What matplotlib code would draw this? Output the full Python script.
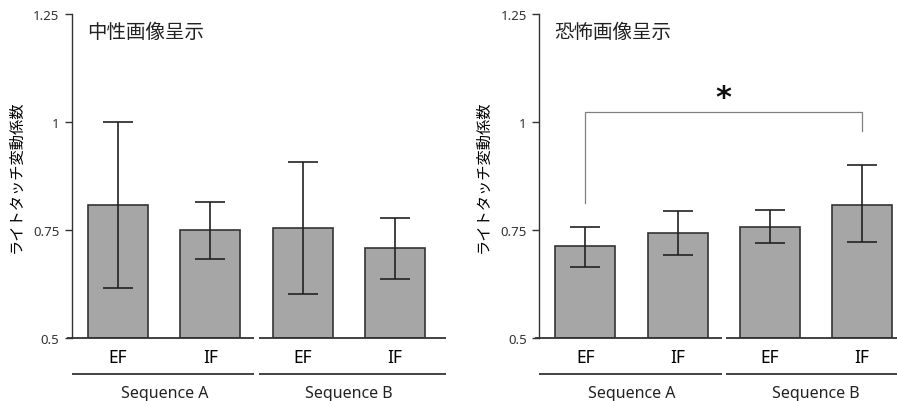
import matplotlib
matplotlib.use("Agg")
import matplotlib.pyplot as plt
import matplotlib.transforms as mtransforms
import numpy as np

plt.rcParams['font.family'] = ['Noto Sans', 'Noto Sans CJK JP', 'DejaVu Sans']

conditions = ["EF", "IF", "EF", "IF"]
groups = ["Sequence A", "Sequence B"]
titles = ["中性画像呈示", "恐怖画像呈示"]
ylabel = "ライトタッチ変動係数"
yticks = [0.5, 0.75, 1.0, 1.25]
yticklabels = ["0.5", "0.75", "1", "1.25"]

neutral_mean = [0.807, 0.749, 0.754, 0.708]
neutral_upper = [1.000, 0.815, 0.908, 0.778]
neutral_lower = [0.616, 0.682, 0.602, 0.636]

fear_mean = [0.712, 0.744, 0.756, 0.809]
fear_upper = [0.758, 0.793, 0.796, 0.900]
fear_lower = [0.665, 0.693, 0.720, 0.723]

sig_level = 1.022
sig_left_end = 0.813
sig_right_end = 0.980
star_level = 1.056

W, H = 897, 402
fig = plt.figure(figsize=(W / 100, H / 100), dpi=100)

axis_color = "#333333"
bar_color = "#a6a6a6"


def make_panel(left_px, means, uppers, lowers, title, sig=False):
    ax = fig.add_axes([left_px / W, (H - 339) / H, 369 / W, 324 / H])
    x = np.arange(len(means))
    means = np.array(means)
    err = np.vstack([means - np.array(lowers), np.array(uppers) - means])
    ax.bar(x, means - 0.5, bottom=0.5, width=0.65, color=bar_color,
           edgecolor=axis_color, linewidth=1.2, zorder=2)
    ax.errorbar(x, means, yerr=err, fmt="none", ecolor="#222222",
                elinewidth=1.2, capsize=11, capthick=1.2, zorder=3)
    ax.set_xlim(-0.5, 3.5)
    ax.set_ylim(0.5, 1.25)
    ax.set_yticks(yticks)
    ax.set_yticklabels(yticklabels, fontsize=9.5, color="#333333")
    ax.tick_params(axis="y", direction="out", length=5, width=1.0,
                   color=axis_color, pad=4)
    ax.set_xticks(x)
    ax.set_xticklabels(conditions, fontsize=12.5)
    ax.tick_params(axis="x", length=0, pad=7)
    for s in ["top", "right", "bottom"]:
        ax.spines[s].set_visible(False)
    ax.spines["left"].set_color(axis_color)
    ax.spines["left"].set_linewidth(1.0)
    # broken bottom axis
    ax.plot([-0.55, 1.478], [0.5, 0.5], color=axis_color, lw=1.3,
            clip_on=False, zorder=4, solid_capstyle="butt")
    ax.plot([1.522, 3.55], [0.5, 0.5], color=axis_color, lw=1.3,
            clip_on=False, zorder=4, solid_capstyle="butt")
    trans = mtransforms.blended_transform_factory(ax.transData, ax.transAxes)
    gy = -36 / 324
    ax.plot([-0.5, 1.478], [gy, gy], color="#222222", lw=1.2,
            transform=trans, clip_on=False, solid_capstyle="butt")
    ax.plot([1.522, 3.55], [gy, gy], color="#222222", lw=1.2,
            transform=trans, clip_on=False, solid_capstyle="butt")
    for i, g in enumerate(groups):
        ax.text(0.5 + 2 * i, -55 / 324, g, transform=trans, ha="center",
                va="center", fontsize=11.5, color="#222222")
    ax.set_ylabel(ylabel, fontsize=11, family=['Noto Sans CJK JP'],
                  labelpad=6)
    ax.text(0.04, 0.945, title, transform=ax.transAxes, fontsize=14,
            ha="left", va="center", family=['Noto Sans CJK JP'],
            color="#222222")
    if sig:
        ax.plot([0, 0, 3, 3], [sig_left_end, sig_level, sig_level, sig_right_end],
                color="#808080", lw=0.9, zorder=1)
        ax.text(1.5, star_level, "*", ha="center", va="center",
                fontsize=22, fontweight="bold", color="#111111",
                family=['DejaVu Sans'])
    return ax


make_panel(72, neutral_mean, neutral_upper, neutral_lower, titles[0])
make_panel(539.3, fear_mean, fear_upper, fear_lower, titles[1], sig=True)

fig.savefig("out.png", dpi=100)
